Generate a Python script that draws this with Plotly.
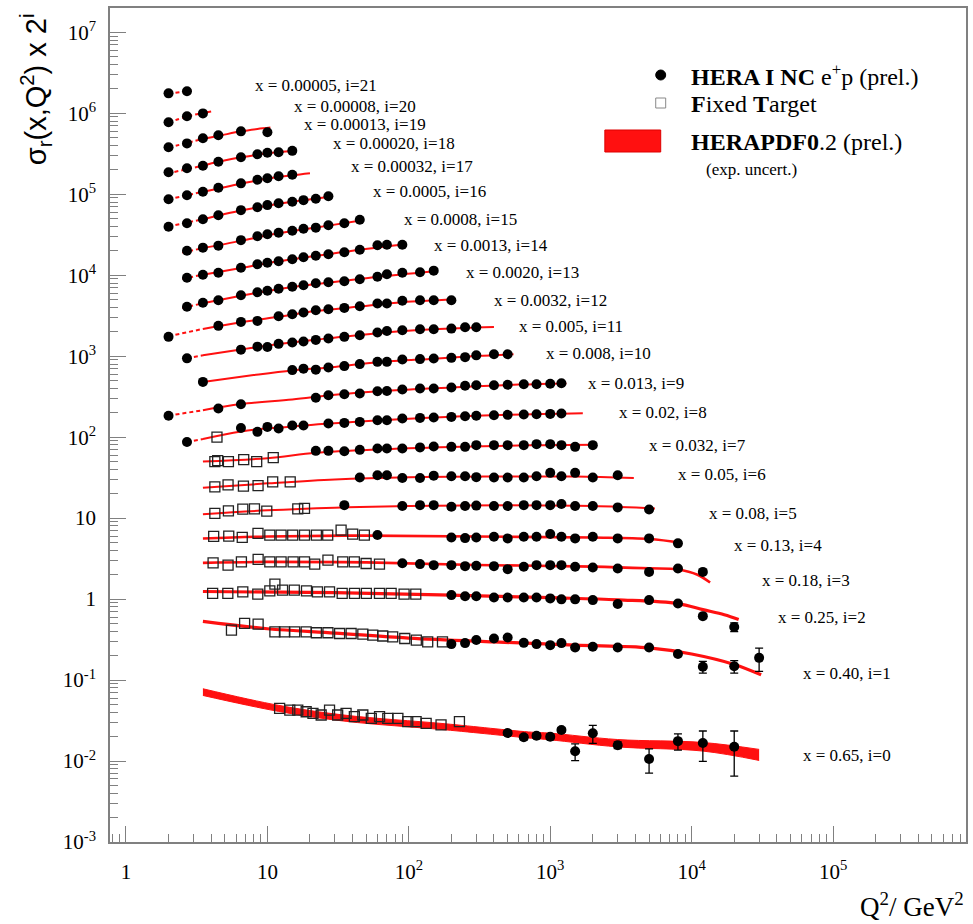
import plotly.graph_objects as go

# ---------------- data (sigma_r values; plotted as sigma_r * 2^i) ----------------
X_BINS = ["0.65", "0.40", "0.25", "0.18", "0.13", "0.08", "0.05", "0.032", "0.02",
          "0.013", "0.008", "0.005", "0.0032", "0.0020", "0.0013", "0.0008", "0.0005",
          "0.00032", "0.00020", "0.00013", "0.00008", "0.00005"]

# HERA I NC e+p combined points
HERA_Q2 = {
    21: [2, 2.7],
    20: [2, 2.7, 3.5],
    19: [2, 2.7, 3.5, 4.5, 6.5, 10],
    18: [2, 2.7, 3.5, 4.5, 6.5, 8.5, 10, 12, 15],
    17: [2, 2.7, 3.5, 4.5, 6.5, 8.5, 10, 12, 15],
    16: [2, 2.7, 3.5, 4.5, 6.5, 8.5, 10, 12, 15, 18, 22, 27],
    15: [2.7, 3.5, 4.5, 6.5, 8.5, 10, 12, 15, 18, 22, 27, 35, 45],
    14: [2.7, 3.5, 4.5, 6.5, 8.5, 10, 12, 15, 18, 22, 27, 35, 45, 60, 70, 90],
    13: [2.7, 3.5, 4.5, 6.5, 8.5, 10, 12, 15, 18, 22, 27, 35, 45, 60, 70, 90, 120, 150],
    12: [2, 4.5, 6.5, 8.5, 12, 15, 18, 22, 27, 35, 45, 60, 70, 90, 120, 150, 200],
    11: [2.7, 6.5, 8.5, 10, 12, 15, 18, 22, 27, 35, 45, 60, 70, 90, 120, 150, 200, 250, 300],
    10: [3.5, 15, 18, 22, 27, 35, 45, 60, 70, 90, 120, 150, 200, 250, 300, 400, 500],
    9: [2, 4.5, 6.5, 22, 27, 35, 45, 60, 70, 90, 120, 150, 200, 250, 300, 400, 500, 650, 800, 1000, 1200],
    8: [2.7, 6.5, 8.5, 10, 12, 15, 18, 27, 35, 45, 60, 70, 90, 120, 150, 200, 250, 300, 400, 500, 650, 800, 1000, 1200],
    7: [22, 27, 35, 45, 60, 70, 90, 120, 150, 200, 250, 300, 400, 500, 650, 800, 1000, 1200, 1500, 2000],
    6: [45, 60, 70, 90, 120, 150, 200, 250, 300, 400, 500, 650, 800, 1000, 1200, 1500, 2000, 3000],
    5: [35, 90, 120, 150, 200, 250, 300, 400, 500, 650, 800, 1000, 1200, 1500, 2000, 3000, 5000],
    4: [60, 200, 250, 300, 400, 500, 650, 800, 1000, 1200, 1500, 2000, 3000, 5000, 8000],
    3: [90, 120, 150, 200, 250, 300, 400, 500, 650, 800, 1000, 1200, 1500, 2000, 3000, 5000, 8000, 12000],
    2: [200, 250, 300, 400, 500, 650, 800, 1000, 1200, 1500, 2000, 3000, 5000, 8000, 12000, 20000],
    1: [200, 250, 300, 400, 500, 650, 800, 1000, 1200, 1500, 2000, 3000, 5000, 8000, 12000, 20000, 30000],
    0: [500, 650, 800, 1000, 1200, 1500, 2000, 3000, 5000, 8000, 12000, 20000],
}
HERA_SIG = {
    21: [0.84, 0.89],
    20: [0.74, 0.875, 0.95],
    19: [0.725, 0.81, 0.937, 1.02, 1.14, 1.11],
    18: [0.713, 0.80, 0.858, 0.96, 1.09, 1.19, 1.24, 1.26, 1.31],
    17: [0.662, 0.742, 0.82, 0.918, 1.04, 1.15, 1.20, 1.27, 1.33],
    16: [0.606, 0.67, 0.75, 0.84, 0.97, 1.055, 1.12, 1.18, 1.23, 1.29, 1.34, 1.44],
    15: [0.613, 0.668, 0.707, 0.827, 0.926, 0.98, 1.023, 1.08, 1.146, 1.18, 1.266, 1.34, 1.48],
    14: [0.568, 0.618, 0.655, 0.755, 0.834, 0.87, 0.908, 0.96, 1.017, 1.06, 1.108, 1.17, 1.26, 1.43, 1.45, 1.45],
    13: [0.498, 0.558, 0.60, 0.69, 0.752, 0.785, 0.831, 0.88, 0.918, 0.972, 1.0, 1.03, 1.09, 1.17, 1.255, 1.31, 1.33, 1.39],
    12: [0.423, 0.578, 0.647, 0.666, 0.761, 0.806, 0.846, 0.903, 0.929, 0.964, 1.01, 1.09, 1.09, 1.18, 1.2, 1.2, 1.2],
    11: [0.459, 0.588, 0.64, 0.635, 0.693, 0.721, 0.742, 0.776, 0.808, 0.846, 0.887, 0.958, 1.0, 1.02, 1.05, 1.05, 1.07, 1.11, 1.11],
    10: [0.47, 0.657, 0.685, 0.666, 0.709, 0.736, 0.779, 0.831, 0.831, 0.89, 0.898, 0.915, 0.931, 0.95, 1.0, 1.03, 1.03],
    9: [0.359, 0.442, 0.498, 0.60, 0.643, 0.662, 0.675, 0.721, 0.727, 0.757, 0.779, 0.779, 0.801, 0.843, 0.855, 0.855, 0.866, 0.88, 0.88, 0.893, 0.905],
    8: [0.341, 0.507, 0.454, 0.523, 0.5, 0.544, 0.544, 0.576, 0.586, 0.603, 0.633, 0.633, 0.664, 0.675, 0.683, 0.695, 0.709, 0.719, 0.729, 0.736, 0.744, 0.75, 0.757, 0.765],
    7: [0.529, 0.529, 0.522, 0.544, 0.566, 0.566, 0.566, 0.584, 0.60, 0.593, 0.593, 0.622, 0.622, 0.622, 0.622, 0.64, 0.64, 0.622, 0.593, 0.622],
    6: [0.497, 0.53, 0.53, 0.49, 0.49, 0.523, 0.515, 0.515, 0.501, 0.497, 0.497, 0.497, 0.515, 0.566, 0.515, 0.566, 0.497, 0.53],
    5: [0.452, 0.44, 0.452, 0.452, 0.431, 0.44, 0.446, 0.44, 0.44, 0.452, 0.452, 0.452, 0.466, 0.44, 0.44, 0.424, 0.40],
    4: [0.386, 0.361, 0.354, 0.361, 0.368, 0.351, 0.368, 0.368, 0.397, 0.368, 0.351, 0.368, 0.351, 0.351, 0.305],
    3: [0.347, 0.338, 0.328, 0.328, 0.319, 0.323, 0.319, 0.293, 0.313, 0.328, 0.328, 0.328, 0.313, 0.307, 0.298, 0.271, 0.298, 0.271],
    2: [0.28, 0.271, 0.271, 0.262, 0.262, 0.262, 0.262, 0.255, 0.248, 0.248, 0.243, 0.217, 0.243, 0.221, 0.154, 0.113],
    1: [0.139, 0.143, 0.156, 0.163, 0.168, 0.144, 0.139, 0.135, 0.143, 0.126, 0.129, 0.126, 0.126, 0.105, 0.073, 0.074, 0.094],
    0: [0.0222, 0.0197, 0.0205, 0.0199, 0.0242, 0.0132, 0.022, 0.0157, 0.0106, 0.0176, 0.0167, 0.0150],
}
# visible error bars (absolute, on sigma_r) for the high-x bins
HERA_ERR = {
    2: {12000: 0.008, 20000: 0.014},
    1: {12000: 0.012, 20000: 0.013, 30000: 0.03},
    0: {500: 0.0015, 650: 0.0015, 800: 0.0015, 1000: 0.0015, 1200: 0.0016, 1500: 0.0031,
        2000: 0.0055, 3000: 0.0015, 5000: 0.0035, 8000: 0.004, 12000: 0.0068, 20000: 0.0085},
}

# Fixed target points
FT_Q2 = {
    8: [4.4],
    7: [4.25, 4.45, 5.3, 6.8, 8.4, 11.0],
    6: [4.25, 5.27, 6.77, 8.59, 10.9, 14.5],
    5: [4.25, 5.3, 6.7, 8.1, 9.9, 16.4, 18.3],
    4: [4.17, 5.33, 6.64, 8.58, 10.4, 12.5, 15.1, 18.3, 22.2, 26.7, 33.2, 40.1, 48.5],
    3: [4.13, 5.27, 6.55, 8.6, 10.4, 12.5, 15.2, 18.3, 21.6, 26.8, 34.1, 41.2, 49.9, 62],
    2: [4.1, 5.25, 6.7, 8.55, 10.4, 11.3, 12.8, 15.5, 18.9, 22.6, 27.5, 33.8, 41.3, 50.1, 62, 75, 92.6, 112],
    1: [5.57, 6.9, 8.6, 11.3, 13.2, 15.6, 18.8, 22.2, 26.8, 32.4, 39.1, 47.3, 55.6, 65.4, 76.9, 93.6, 113, 136, 173],
    0: [12.2, 14.4, 16.4, 18.8, 21.0, 24.0, 27.5, 31.4, 36.0, 41.2, 47.3, 54.3, 62.1, 71.0, 83.7, 98.3, 112.6, 132.6, 169, 228],
}
FT_SIG = {
    8: [0.39],
    7: [0.389, 0.40, 0.389, 0.412, 0.389, 0.436],
    6: [0.38, 0.403, 0.388, 0.394, 0.439, 0.439],
    5: [0.357, 0.385, 0.404, 0.406, 0.381, 0.406, 0.412],
    4: [0.372, 0.375, 0.361, 0.405, 0.386, 0.386, 0.386, 0.386, 0.386, 0.386, 0.445, 0.397, 0.386],
    3: [0.35, 0.328, 0.36, 0.386, 0.36, 0.36, 0.36, 0.36, 0.338, 0.378, 0.36, 0.36, 0.344, 0.338],
    2: [0.294, 0.294, 0.307, 0.288, 0.316, 0.382, 0.322, 0.322, 0.316, 0.307, 0.307, 0.294, 0.294, 0.294, 0.294, 0.294, 0.288, 0.288],
    1: [0.207, 0.25, 0.245, 0.197, 0.197, 0.197, 0.197, 0.192, 0.192, 0.188, 0.188, 0.185, 0.179, 0.175, 0.171, 0.163, 0.156, 0.148, 0.148],
    0: [0.0447, 0.0426, 0.0426, 0.0406, 0.0387, 0.0370, 0.0426, 0.0370, 0.0387, 0.0353, 0.0370, 0.0337, 0.0353, 0.0337, 0.0337, 0.0306, 0.0306, 0.0292, 0.0279, 0.0306],
}

# HERAPDF0.2 curves (dashed below Q2_min = 3.5)
Q2_MIN = 3.5
PDF_Q2 = {
    21: [2, 2.9],
    20: [2, 2.7, 3.5, 4.0],
    19: [2, 2.7, 3.5, 4.5, 6.5, 8.5, 10.5],
    18: [2.2, 3.5, 4.5, 6.5, 10, 15.5],
    17: [2, 3.5, 6.5, 10, 15, 20],
    16: [2, 3.5, 6.5, 10, 15, 28],
    15: [2.5, 3.5, 6.5, 10, 15, 27, 47],
    14: [2.5, 3.5, 6.5, 10, 15, 27, 45, 92],
    13: [2.5, 3.5, 6.5, 10, 18, 35, 70, 160],
    12: [2, 3.5, 6.5, 12, 22, 45, 90, 210],
    11: [2.7, 3.5, 6.5, 12, 27, 60, 150, 400],
    10: [3.5, 8, 15, 30, 60, 150, 300, 550],
    9: [2, 3.5, 6.5, 15, 30, 70, 200, 600, 1300],
    8: [2.7, 3.5, 6.5, 15, 40, 100, 300, 1700],
    7: [3.5, 10, 22, 60, 200, 700, 2100],
    6: [3.5, 10, 30, 100, 400, 1500, 3900],
    5: [3.5, 10, 30, 100, 500, 2000, 5500],
    4: [3.5, 10, 50, 300, 2000, 5000, 8500],
    3: [3.5, 10, 50, 300, 2000, 5000, 8000, 11000, 13500],
    2: [3.5, 30, 200, 1000, 3000, 8000, 12000, 17000, 21500],
    1: [3.5, 10, 30, 100, 400, 1500, 5000, 10000, 20000, 31000],
    0: [3.5, 12, 36, 180, 700, 1000, 3000, 12000, 30000],
}
PDF_SIG = {
    21: [0.83, 0.91],
    20: [0.73, 0.87, 0.96, 1.0],
    19: [0.72, 0.82, 0.92, 1.0, 1.14, 1.22, 1.27],
    18: [0.72, 0.86, 0.96, 1.09, 1.22, 1.31],
    17: [0.66, 0.82, 1.03, 1.19, 1.31, 1.39],
    16: [0.61, 0.75, 0.96, 1.1, 1.23, 1.42],
    15: [0.58, 0.66, 0.81, 0.95, 1.07, 1.25, 1.46],
    14: [0.55, 0.62, 0.75, 0.86, 0.96, 1.11, 1.26, 1.46],
    13: [0.48, 0.55, 0.68, 0.78, 0.91, 1.04, 1.2, 1.38],
    12: [0.43, 0.53, 0.64, 0.75, 0.88, 1.0, 1.13, 1.22],
    11: [0.46, 0.5, 0.59, 0.69, 0.81, 0.94, 1.05, 1.12],
    10: [0.47, 0.57, 0.65, 0.72, 0.82, 0.91, 0.98, 1.03],
    9: [0.36, 0.42, 0.5, 0.57, 0.65, 0.73, 0.8, 0.87, 0.9],
    8: [0.34, 0.37, 0.46, 0.53, 0.6, 0.66, 0.72, 0.77],
    7: [0.39, 0.43, 0.5, 0.55, 0.59, 0.62, 0.63],
    6: [0.37, 0.42, 0.47, 0.5, 0.51, 0.51, 0.49],
    5: [0.35, 0.39, 0.42, 0.44, 0.45, 0.44, 0.41],
    4: [0.35, 0.37, 0.38, 0.37, 0.36, 0.345, 0.31],
    3: [0.35, 0.36, 0.355, 0.33, 0.315, 0.3, 0.29, 0.25, 0.2],
    2: [0.31, 0.30, 0.28, 0.26, 0.245, 0.22, 0.185, 0.16, 0.14],
    1: [0.265, 0.215, 0.19, 0.165, 0.148, 0.135, 0.125, 0.105, 0.078, 0.058],
    0: [0.071, 0.0447, 0.0337, 0.0265, 0.021, 0.0201, 0.0166, 0.0150, 0.0119],
}
# relative experimental uncertainty of the x = 0.65 band
PDF_UNC_0 = [0.10, 0.09, 0.09, 0.09, 0.09, 0.10, 0.11, 0.13, 0.17]

X_TICKS = [1, 10, 100, 1000, 10000, 100000]
X_TICKTEXT = ["1", "10", "10<sup>2</sup>", "10<sup>3</sup>", "10<sup>4</sup>", "10<sup>5</sup>"]
Y_TICKS = [1e-3, 1e-2, 1e-1, 1, 10, 1e2, 1e3, 1e4, 1e5, 1e6, 1e7]
Y_TICKTEXT = ["10<sup>-3</sup>", "10<sup>-2</sup>", "10<sup>-1</sup>", "1", "10",
              "10<sup>2</sup>", "10<sup>3</sup>", "10<sup>4</sup>", "10<sup>5</sup>",
              "10<sup>6</sup>", "10<sup>7</sup>"]

# ---------------- figure ----------------
RED = "#ff1010"
W, H = 973, 924
ML, MR, MT, MB = 110, 5, 8, 82
PW, PH = W - ML - MR, H - MT - MB


def px(xp):
    return (xp - ML) / PW


def py(yp):
    return (H - MB - yp) / PH


fig = go.Figure()


def scaled(vals, i):
    return [v * 2 ** i for v in vals]


# curves
for i in range(22):
    q = PDF_Q2[i]
    s = scaled(PDF_SIG[i], i)
    if i == 0:
        up = [v * (1 + u) for v, u in zip(s, PDF_UNC_0)]
        lo = [v / (1 + u) for v, u in zip(s, PDF_UNC_0)]
        fig.add_trace(go.Scatter(x=q, y=lo, mode="lines",
                                 line=dict(color=RED, width=1, shape="spline"),
                                 hoverinfo="skip"))
        fig.add_trace(go.Scatter(x=q, y=up, mode="lines", fill="tonexty",
                                 fillcolor=RED,
                                 line=dict(color=RED, width=1, shape="spline"),
                                 hoverinfo="skip"))
        continue
    width = 3.2 if i <= 2 else (2.6 if i <= 4 else 2.0)
    dq = [a for a in q if a <= Q2_MIN]
    ds = [b for a, b in zip(q, s) if a <= Q2_MIN]
    sq = [a for a in q if a >= Q2_MIN]
    ss = [b for a, b in zip(q, s) if a >= Q2_MIN]
    if len(dq) >= 2:
        fig.add_trace(go.Scatter(x=dq, y=ds, mode="lines",
                                 line=dict(color=RED, width=width, dash="4px,3px",
                                           shape="spline"),
                                 hoverinfo="skip"))
    if len(sq) >= 2:
        fig.add_trace(go.Scatter(x=sq, y=ss, mode="lines",
                                 line=dict(color=RED, width=width, shape="spline"),
                                 hoverinfo="skip"))

# fixed target
for i in FT_Q2:
    fig.add_trace(go.Scatter(x=FT_Q2[i], y=scaled(FT_SIG[i], i), mode="markers",
                             marker=dict(symbol="square-open", size=10,
                                         color="#222222", line=dict(width=1.3))))

# HERA
for i in range(22):
    q = HERA_Q2[i]
    s = scaled(HERA_SIG[i], i)
    errs = HERA_ERR.get(i)
    err_kw = {}
    if errs:
        e = [errs.get(a, 0) * 2 ** i for a in q]
        err_kw = dict(error_y=dict(type="data", array=e, visible=True,
                                   color="black", thickness=1.3, width=4))
    fig.add_trace(go.Scatter(x=q, y=s, mode="markers",
                             marker=dict(symbol="circle", size=10, color="black"),
                             **err_kw))

# bin labels
LABEL_POS = {21: (253, 86), 20: (292, 106), 19: (302, 124), 18: (332, 143),
             17: (350, 166), 16: (372, 192), 15: (403, 220), 14: (433, 245),
             13: (465, 272), 12: (493, 300), 11: (518, 327), 10: (545, 353),
             9: (587, 383), 8: (618, 412), 7: (648, 445), 6: (677, 474),
             5: (708, 513), 4: (733, 545), 3: (762, 580), 2: (778, 617),
             1: (803, 673), 0: (803, 755)}
annotations = []
for i in range(22):
    lx, ly = LABEL_POS[i]
    annotations.append(dict(x=px(lx), y=py(ly), xref="paper", yref="paper",
                            xanchor="left", yanchor="middle", showarrow=False,
                            text=f"x = {X_BINS[i]}, i={i}",
                            font=dict(family="Liberation Serif", size=17, color="black")))

# axis titles
annotations.append(dict(x=px(36), y=py(89), xref="paper", yref="paper", textangle=-90,
                        xanchor="center", yanchor="middle", showarrow=False,
                        text="σ<sub>r</sub>(x,Q<sup>2</sup>) x 2<sup>i</sup>",
                        font=dict(family="Liberation Sans", size=29, color="black")))
annotations.append(dict(x=1.0, y=py(905), xref="paper", yref="paper",
                        xanchor="right", yanchor="middle", showarrow=False,
                        text="Q<sup>2</sup>/ GeV<sup>2</sup>",
                        font=dict(family="Liberation Serif", size=27, color="black")))

# legend (drawn manually)
LEG_FONT = dict(family="Liberation Serif", size=24, color="black")
annotations += [
    dict(x=px(690), y=py(75), xref="paper", yref="paper", xanchor="left", yanchor="middle",
         showarrow=False, text="<b>HERA I NC</b> e<sup>+</sup>p (prel.)", font=LEG_FONT),
    dict(x=px(690), y=py(104), xref="paper", yref="paper", xanchor="left", yanchor="middle",
         showarrow=False, text="<b>F</b>ixed <b>T</b>arget", font=LEG_FONT),
    dict(x=px(690), y=py(142), xref="paper", yref="paper", xanchor="left", yanchor="middle",
         showarrow=False, text="<b>HERAPDF0</b>.2 (prel.)", font=LEG_FONT),
    dict(x=px(705), y=py(169), xref="paper", yref="paper", xanchor="left", yanchor="middle",
         showarrow=False, text="(exp. uncert.)",
         font=dict(family="Liberation Serif", size=17, color="black")),
]
shapes = [
    dict(type="circle", xref="paper", yref="paper", x0=px(657), x1=px(667),
         y0=py(80), y1=py(70), fillcolor="black", line=dict(color="black", width=1)),
    dict(type="rect", xref="paper", yref="paper", x0=px(657), x1=px(667),
         y0=py(108), y1=py(98), fillcolor="white", line=dict(color="#888888", width=1)),
    dict(type="rect", xref="paper", yref="paper", x0=px(606), x1=px(662),
         y0=py(152), y1=py(130), fillcolor=RED, line=dict(color="#dd0000", width=1)),
]

x_minor = [m * 10 ** k for k in range(-1, 6) for m in range(2, 10)]
y_minor = [m * 10.0 ** k for k in range(-3, 8) for m in range(2, 10)]

AX = dict(showline=True, linecolor="#808080", linewidth=1.5, mirror=True,
          ticks="inside", ticklen=16, tickwidth=1, tickcolor="#808080",
          showgrid=False, zeroline=False,
          tickfont=dict(family="Liberation Serif", size=21, color="black"))

fig.update_layout(
    width=W, height=H, margin=dict(l=ML, r=MR, t=MT, b=MB),
    paper_bgcolor="white", plot_bgcolor="white", showlegend=False,
    annotations=annotations, shapes=shapes,
    xaxis=dict(type="log", range=[-0.113, 5.94], tickvals=X_TICKS, ticktext=X_TICKTEXT,
               ticklabelstandoff=10,
               minor=dict(tickvals=x_minor, ticks="inside", ticklen=8, tickcolor="#808080",
                          showgrid=False), **AX),
    yaxis=dict(type="log", range=[-3, 7.3], tickvals=Y_TICKS, ticktext=Y_TICKTEXT,
               ticklabelstandoff=8,
               minor=dict(tickvals=y_minor, ticks="inside", ticklen=8, tickcolor="#808080",
                          showgrid=False), **AX),
)

fig.write_html("out.html")
